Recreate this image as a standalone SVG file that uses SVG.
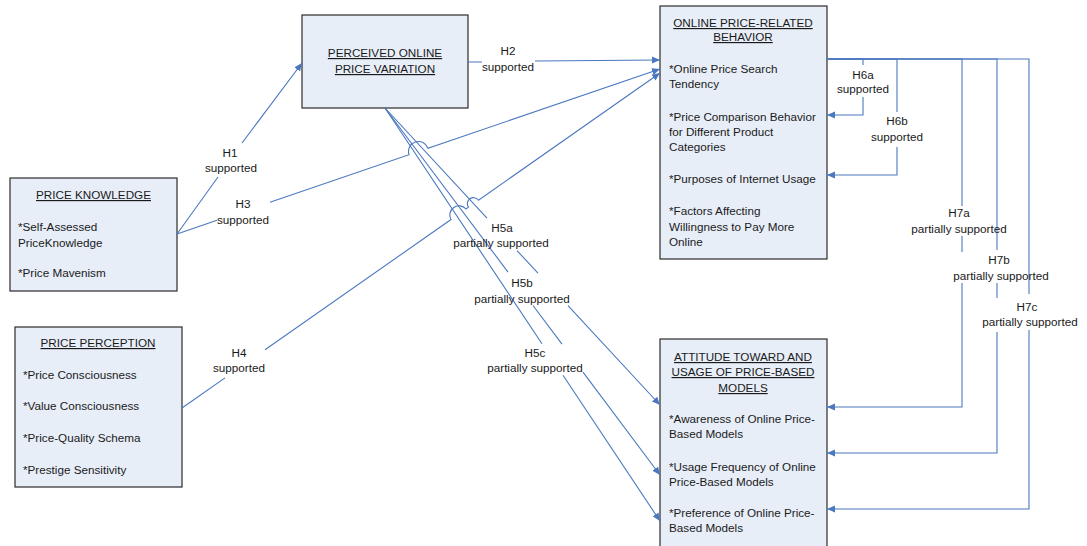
<svg xmlns="http://www.w3.org/2000/svg" width="1087" height="546" viewBox="0 0 1087 546">
<style>
text{font-family:"Liberation Sans",Arial,sans-serif;font-size:11.7px;fill:#1a1a1a}
.t{text-anchor:middle;text-decoration:underline}
.l{text-anchor:middle}
.box{fill:#e8eef8;stroke:#2b2b2b;stroke-width:1.2}
.c{fill:none;stroke:#4a78c0;stroke-width:1.1}
</style>
<defs>
<marker id="a" markerUnits="userSpaceOnUse" markerWidth="8" markerHeight="8" refX="8" refY="4" orient="auto">
<path d="M0,0.5 L8,4 L0,7.5 z" fill="#4a78c0"/>
</marker>
</defs>
<rect width="1087" height="546" fill="#fff"/>

<g id="price-knowledge">
<rect class="box" x="10" y="178" width="167" height="113"/>
<text class="t" x="93.5" y="199">PRICE KNOWLEDGE</text>
<text x="18" y="231">*Self-Assessed</text>
<text x="18" y="247">PriceKnowledge</text>
<text x="18" y="277">*Price Mavenism</text>
</g>

<g id="price-perception">
<rect class="box" x="15" y="327" width="167" height="160"/>
<text class="t" x="98" y="347">PRICE PERCEPTION</text>
<text x="23" y="379">*Price Consciousness</text>
<text x="23" y="410">*Value Consciousness</text>
<text x="23" y="442">*Price-Quality Schema</text>
<text x="23" y="474">*Prestige Sensitivity</text>
</g>

<g id="perceived-variation">
<rect class="box" x="302" y="15" width="166" height="93"/>
<text class="t" x="385" y="57">PERCEIVED ONLINE</text>
<text class="t" x="385" y="73">PRICE VARIATION</text>
</g>

<g id="online-behavior">
<rect class="box" x="660" y="6" width="167" height="253"/>
<text class="t" x="743" y="27">ONLINE PRICE-RELATED</text>
<text class="t" x="743" y="41">BEHAVIOR</text>
<text x="669" y="73">*Online Price Search</text>
<text x="669" y="88">Tendency</text>
<text x="669" y="121">*Price Comparison Behavior</text>
<text x="669" y="136">for Different Product</text>
<text x="669" y="151">Categories</text>
<text x="669" y="183">*Purposes of Internet Usage</text>
<text x="669" y="215">*Factors Affecting</text>
<text x="669" y="231">Willingness to Pay More</text>
<text x="669" y="246">Online</text>
</g>

<g id="attitude-usage">
<rect class="box" x="660" y="339" width="167" height="230"/>
<text class="t" x="743" y="361">ATTITUDE TOWARD AND</text>
<text class="t" x="743" y="376">USAGE OF PRICE-BASED</text>
<text class="t" x="743" y="392">MODELS</text>
<text x="669" y="423">*Awareness of Online Price-</text>
<text x="669" y="438">Based Models</text>
<text x="669" y="471">*Usage Frequency of Online</text>
<text x="669" y="486">Price-Based Models</text>
<text x="669" y="517">*Preference of Online Price-</text>
<text x="669" y="532">Based Models</text>
</g>

<g id="connectors">
<path class="c" marker-end="url(#a)" d="M177,234 L218,177 M242,143 L302,63"/>
<path class="c" marker-end="url(#a)" d="M468,62 L482,62 M535,61 L660,60"/>
<path class="c" marker-end="url(#a)" d="M177,234 L217,220.3 M270,202.2 L409,154.7 A10,10 0 0 1 428,148.3 L660,69"/>
<path class="c" marker-end="url(#a)" d="M182,408 L225,377.9 M265,349.8 L451,219.5 A9.2,9.2 0 0 1 466,209 L468.5,207.2 A6.1,6.1 0 0 1 478.5,200.2 L660,73"/>
<path class="c" marker-end="url(#a)" d="M385,108 L487,218.2 M517,250.6 L538,273.2 M568,305.6 L660,405"/>
<path class="c" marker-end="url(#a)" d="M385,108 L508,272.1 M533,305.5 L562,344.2 M583,372.2 L660,475"/>
<path class="c" marker-end="url(#a)" d="M385,108 L542,343.8 M563,375.3 L660,521"/>
<path class="c" marker-end="url(#a)" d="M827,59 L863,59 L863,65 M863,97 L863,115 L827,115"/>
<path class="c" marker-end="url(#a)" d="M827,59 L897,59 L897,112 M897,147 L897,175 L827,175"/>
<path class="c" marker-end="url(#a)" d="M827,59 L962,59 L962,206 M962,236 L962,252 M962,283 L962,407 L827,407"/>
<path class="c" marker-end="url(#a)" d="M827,59 L997,59 L997,250 M997,283 L997,298 M997,332 L997,453 L827,453"/>
<path class="c" marker-end="url(#a)" d="M827,59 L1029,59 L1029,294 M1029,330 L1029,509 L827,509"/>
<text class="l" x="230" y="157">H1</text>
<text class="l" x="231" y="172">supported</text>
<text class="l" x="508" y="55">H2</text>
<text class="l" x="508" y="71">supported</text>
<text class="l" x="243" y="208">H3</text>
<text class="l" x="243" y="224">supported</text>
<text class="l" x="239" y="357">H4</text>
<text class="l" x="239" y="372">supported</text>
<text class="l" x="502" y="232">H5a</text>
<text class="l" x="501" y="247">partially supported</text>
<text class="l" x="522" y="287">H5b</text>
<text class="l" x="522" y="303">partially supported</text>
<text class="l" x="535" y="357">H5c</text>
<text class="l" x="535" y="372">partially supported</text>
<text class="l" x="863" y="79">H6a</text>
<text class="l" x="863" y="93">supported</text>
<text class="l" x="897" y="125">H6b</text>
<text class="l" x="897" y="141">supported</text>
<text class="l" x="959" y="217">H7a</text>
<text class="l" x="959" y="233">partially supported</text>
<text class="l" x="999" y="264">H7b</text>
<text class="l" x="1001" y="280">partially supported</text>
<text class="l" x="1027" y="311">H7c</text>
<text class="l" x="1030" y="326">partially supported</text>
</g>
</svg>
